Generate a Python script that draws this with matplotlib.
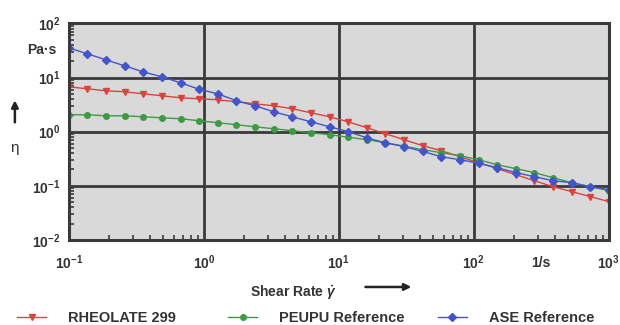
import numpy as np
import matplotlib
matplotlib.use("Agg")
import matplotlib.pyplot as plt
from matplotlib.lines import Line2D
from matplotlib.patches import FancyArrowPatch
from matplotlib.ticker import LogLocator, NullFormatter

plt.rcParams['font.family'] = ['Liberation Sans', 'DejaVu Sans']
plt.rcParams['mathtext.fontset'] = 'custom'
plt.rcParams['mathtext.rm'] = 'Liberation Sans:bold'
plt.rcParams['mathtext.it'] = 'Liberation Sans:bold:italic'
plt.rcParams['mathtext.bf'] = 'Liberation Sans:bold'

# Data (shear rate in 1/s, viscosity in Pa·s)
shear_rate = [0.1, 0.1374, 0.1887, 0.2593, 0.3562, 0.4894, 0.6723, 0.9237,
              1.269, 1.743, 2.395, 3.290, 4.520, 6.210, 8.532, 11.72, 16.10,
              22.12, 30.39, 41.75, 57.36, 78.80, 108.3, 148.7, 204.3, 280.7,
              385.7, 529.9, 728.0, 1000.0]

rheolate = [6.73, 6.19, 5.69, 5.45, 5.0, 4.59, 4.22, 4.04, 3.88, 3.56, 3.27,
            3.0, 2.65, 2.23, 1.88, 1.52, 1.18, 0.914, 0.71, 0.55, 0.445,
            0.344, 0.267, 0.207, 0.160, 0.124, 0.096, 0.078, 0.063, 0.051]

peupu = [2.05, 2.05, 1.96, 1.96, 1.88, 1.80, 1.73, 1.59, 1.46, 1.34, 1.23,
         1.13, 1.04, 0.955, 0.877, 0.789, 0.71, 0.624, 0.538, 0.464, 0.408,
         0.359, 0.303, 0.245, 0.207, 0.175, 0.141, 0.114, 0.096, 0.081]

ase = [35.3, 27.4, 21.2, 16.4, 12.7, 10.3, 7.98, 6.06, 5.0, 3.72, 3.0, 2.33,
       1.88, 1.52, 1.23, 1.0, 0.77, 0.62, 0.53, 0.43, 0.344, 0.303, 0.261,
       0.216, 0.175, 0.147, 0.124, 0.114, 0.096, 0.085]

labels = ['RHEOLATE 299', 'PEUPU Reference', 'ASE Reference']
colors = ['#d9443f', '#3e9a45', '#4455cc']
markers = ['v', 'o', 'D']

xticks = [0.1, 1, 10, 100, 1000]
xticklabels = [r'$10^{-1}$', r'$10^{0}$', r'$10^{1}$', r'$10^{2}$', r'$10^{3}$']
yticks = [0.01, 0.1, 1, 10, 100]
yticklabels = [r'$10^{-2}$', r'$10^{-1}$', r'$10^{0}$', r'$10^{1}$', r'$10^{2}$']

txt = '#333333'
grid = '#3a3a3a'

fig = plt.figure(figsize=(6.2, 3.25), dpi=100)
ax = fig.add_axes([0.111, 0.262, 0.871, 0.666])
ax.set_facecolor('#d9d9d9')

series = [rheolate, peupu, ase]
for vals, lab, c, m in zip(series, labels, colors, markers):
    ax.plot(shear_rate, vals, color=c, marker=m, markersize=4, lw=1.0,
            label=lab)

ax.set_xscale('log')
ax.set_yscale('log')
ax.set_xlim(0.1, 1000)
ax.set_ylim(0.01, 100)
ax.set_xticks(xticks)
ax.set_xticklabels(xticklabels)
ax.set_yticks(yticks)
ax.set_yticklabels(yticklabels)
for a in (ax.xaxis, ax.yaxis):
    a.set_minor_locator(LogLocator(base=10, subs=range(2, 10)))
    a.set_minor_formatter(NullFormatter())
ax.tick_params(which='major', length=0, labelsize=10, labelcolor=txt)
ax.tick_params(axis='x', which='major', pad=10)
ax.tick_params(axis='y', which='major', pad=6)
ax.tick_params(which='minor', direction='in', length=3.5, width=1.2,
               color=grid, top=False, right=False)
ax.grid(True, which='major', color=grid, lw=2)
for s in ax.spines.values():
    s.set_color(grid)
    s.set_linewidth(2.2)

# units and axis captions
ax.text(316, 0.0038, '1/s', ha='center', va='center', fontsize=10,
        fontweight='bold', color=txt, clip_on=False)
ax.text(-0.05, 0.877, 'Pa·s', transform=ax.transAxes, ha='center',
        va='center', fontsize=10, fontweight='bold', color=txt)
fig.text(0.024, 0.545, 'η', ha='center', va='center', fontsize=11,
         color=txt)
fig.add_artist(FancyArrowPatch(
    (0.024, 0.615), (0.024, 0.70), transform=fig.transFigure,
    arrowstyle='-|>', mutation_scale=10, lw=1.8, color='#222222'))

fig.text(0.473, 0.10, r'Shear Rate $\dot{\gamma}$', ha='center', va='center',
         fontsize=10, fontweight='bold', color=txt)
fig.add_artist(FancyArrowPatch(
    (0.585, 0.117), (0.668, 0.117), transform=fig.transFigure,
    arrowstyle='-|>', mutation_scale=10, lw=1.8, color='#222222'))

# legend: three equally spaced entries along the bottom edge
legend_x = [0.0065, 0.347, 0.685]
for lx, lab, c, m in zip(legend_x, labels, colors, markers):
    h = Line2D([], [], color=c, marker=m, markersize=4, lw=1.0)
    leg = fig.legend([h], [lab], loc='center left',
                     bbox_to_anchor=(lx, 0.02), frameon=False,
                     handlelength=2.0, handletextpad=1.5,
                     prop={'weight': 'bold', 'size': 10.5})
    leg.get_texts()[0].set_color(txt)

fig.savefig('out.png', dpi=100)
